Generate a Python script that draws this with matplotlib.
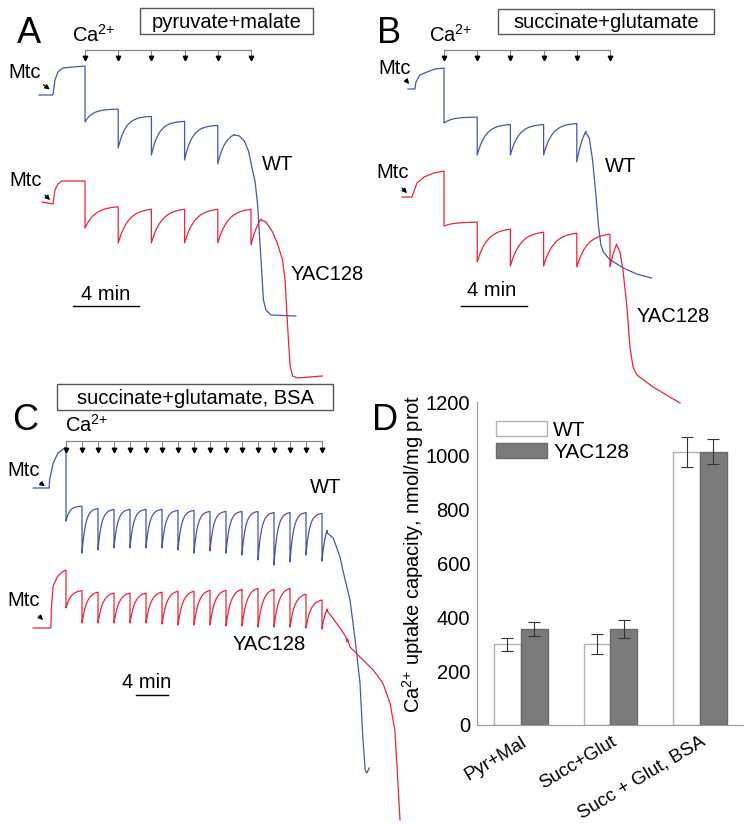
import numpy as np
import matplotlib.pyplot as plt
from matplotlib.patches import Rectangle, FancyArrowPatch
from matplotlib import transforms

plt.rcParams['font.family'] = ['Liberation Sans', 'DejaVu Sans']
plt.rcParams['mathtext.fontset'] = 'custom'
plt.rcParams['mathtext.rm'] = 'Liberation Sans'
plt.rcParams['mathtext.default'] = 'regular'

W, H = 754, 824
FS = 14.5
BLUE = '#4457b3'
RED = '#e8263c'
CA = r'Ca$^{2{+}}$'

# ---- panel A: pyruvate+malate  (time in min, signal in a.u.)
a_adds = [0, 2, 4, 6, 8, 10]
a_wt_mtc_t = [-2.77, -1.93, -1.81, -1.63, -1.33, -0.72, 0]
a_wt_mtc_y = [28.5, 28.5, 30.0, 30.8, 31.2, 31.3, 31.4]
a_wt_dips = [25.8, 23.2, 22.5, 22.0, 21.6]
a_wt_recs = [27.1, 26.4, 25.9, 25.5, 24.9]
a_wt_tail_t = [9.0, 9.3, 9.6, 9.85, 10.05, 10.25, 10.4, 10.6, 10.75, 10.9, 11.2, 12.7]
a_wt_tail_y = [24.5, 24.4, 23.9, 22.9, 21.3, 19.8, 17.5, 12.0, 8.0, 7.0, 6.5, 6.4]
a_yac_mtc_t = [-2.59, -1.93, -1.81, -1.63, -1.39, 0]
a_yac_mtc_y = [17.8, 17.6, 19.0, 19.6, 19.9, 19.9]
a_yac_dips = [15.2, 13.7, 13.7, 13.7, 13.7, 13.5]
a_yac_recs = [17.4, 17.2, 17.2, 17.2, 17.2, 17.6]
a_yac_tail_t = [10.6, 10.9, 11.3, 11.6, 11.9, 12.05, 12.2, 12.35, 12.5, 12.8, 14.3]
a_yac_tail_y = [16.0, 15.8, 14.8, 13.6, 12.0, 10.0, 5.5, 1.5, 0.4, 0.2, 0.4]

# ---- panel B: succinate+glutamate
b_adds = [0, 2, 4, 6, 8, 10]
b_wt_mtc_t = [-2.17, -1.75, -1.69, -1.45, -1.02, -0.54, 0]
b_wt_mtc_y = [29.1, 29.1, 29.8, 30.5, 30.8, 31.1, 31.2]
b_wt_dips = [25.7, 22.5, 22.5, 22.5, 21.8]
b_wt_recs = [26.3, 25.6, 25.6, 25.7, 26.4]
b_wt_tail_t = [8.55, 8.75, 8.95, 9.15, 9.3, 9.45, 9.6, 9.95, 10.8, 11.6, 12.5]
b_wt_tail_y = [24.7, 24.2, 22.0, 18.5, 15.5, 13.5, 12.8, 12.1, 11.2, 10.6, 10.2]
b_yac_mtc_t = [-2.53, -1.93, -1.63, -1.2, -0.6, 0]
b_yac_mtc_y = [18.3, 18.3, 19.7, 20.3, 20.7, 20.9]
b_yac_dips = [15.4, 11.8, 11.4, 11.4, 11.3, 11.3]
b_yac_recs = [15.8, 15.2, 14.9, 14.8, 14.7, 16.0]
b_yac_tail_t = [10.4, 10.6, 10.78, 11.02, 11.2, 11.39, 11.63, 12.59, 13.61, 14.22]
b_yac_tail_y = [13.5, 12.8, 11.0, 7.3, 3.3, 1.3, 0.5, -0.7, -1.7, -2.3]

# ---- panel C: succinate+glutamate, BSA
c_adds = [0, 2, 4, 6, 8, 10, 12, 14, 16, 18, 20, 22, 24, 26, 28, 30, 32]
c_wt_mtc_t = [-4.1, -2.1, -2.05, -1.6, -1.0, 0]
c_wt_mtc_y = [33.6, 33.6, 34.4, 36.1, 37.1, 37.7]
c_wt_dips = [30.3, 27.1, 27.4, 27.6, 27.6, 27.6, 27.6, 27.4, 27.1, 27.3, 27.1, 26.9,
             26.4, 25.9, 26.2, 26.9, 26.3]
c_wt_recs = [31.8, 31.6, 31.5, 31.5, 31.5, 31.5, 31.4, 31.4, 31.3, 31.3, 31.3, 31.3,
             31.2, 31.2, 31.2, 31.1, 30.3]
c_wt_tail_t = [32.65, 33.4, 34.25, 34.6, 35.5, 36.1, 36.75, 37.1, 37.4, 37.6, 37.9]
c_wt_tail_y = [29.1, 28.6, 26.7, 25.4, 22.4, 18.7, 14.1, 8.7, 5.4, 5.1, 5.6]
c_yac_mtc_t = [-4.1, -1.9, -1.8, -1.6, -1.1, -0.5, 0]
c_yac_mtc_y = [19.6, 19.6, 22.0, 23.8, 24.7, 25.2, 25.4]
c_yac_dips = [21.6, 20.1, 20.1, 20.1, 20.1, 20.1, 20.0, 19.9, 19.9, 19.9, 19.8, 19.8,
              19.7, 19.7, 19.7, 19.6, 19.5]
c_yac_recs = [23.4, 23.3, 23.2, 23.2, 23.2, 23.3, 23.4, 23.4, 23.5, 23.5, 23.6, 23.7,
              23.6, 23.7, 23.1, 22.5, 22.5]
c_yac_tail_t = [32.65, 33.25, 34.25, 35.0, 35.1, 35.2, 35.5, 36.75, 38.4, 39.6, 40.5,
                41.1, 41.4, 41.75]
c_yac_tail_y = [21.3, 20.7, 19.6, 18.7, 18.2, 18.5, 17.7, 16.7, 15.4, 14.1, 12.1,
                9.4, 5.4, 0.4]

# ---- panel D: Ca2+ uptake capacity
conditions = ['Pyr+Mal', 'Succ+Glut', 'Succ + Glut, BSA']
wt_mean = [300, 300, 1015]
wt_err = [25, 37, 55]
yac_mean = [357, 357, 1015]
yac_err = [27, 32, 47]


def build(mtc_t, mtc_y, adds, dips, recs, tau, tail_t, tail_y):
    # each Ca2+ pulse: instant drop to the dip, then uptake recovery toward recs[i]
    t, y = list(mtc_t), list(mtc_y)
    n = len(dips)
    for i in range(n):
        t_end = adds[i + 1] if i + 1 < n else tail_t[0]
        tt = np.linspace(adds[i], t_end, 40)
        t.extend(tt)
        y.extend(recs[i] - (recs[i] - dips[i]) * np.exp(-(tt - adds[i]) / tau))
    t.extend(tail_t)
    y.extend(tail_y)
    return t, y


fig = plt.figure(figsize=(W / 100, H / 100), dpi=100)


def put(x, y, s, size=FS, **kw):
    fig.text(x / W, 1 - y / H, s, fontsize=size, **kw)


def arrow(x0, y0, x1, y1):
    fig.add_artist(FancyArrowPatch((x0 / W, 1 - y0 / H), (x1 / W, 1 - y1 / H),
                                   transform=fig.transFigure, arrowstyle='-|>',
                                   mutation_scale=7, lw=0.8, color='black'))


def box(x0, y0, x1, y1, s):
    fig.add_artist(Rectangle((x0 / W, 1 - y1 / H), (x1 - x0) / W, (y1 - y0) / H,
                             transform=fig.transFigure, fill=False, ec='#555555', lw=1))
    put((x0 + x1) / 2, (y0 + y1) / 2 + 1, s, ha='center', va='center')


# ---------------- panel D bars
axd = fig.add_axes([477 / W, 1 - 725 / H, 266 / W, 323 / H])
x = np.arange(len(conditions))
ekw = dict(elinewidth=0.8, ecolor='#333333', capthick=0.8)
axd.bar(x - 0.15, wt_mean, 0.3, yerr=wt_err, color='white', edgecolor='#b3b3b3',
        lw=1, capsize=4, error_kw=ekw, label='WT')
axd.bar(x + 0.15, yac_mean, 0.3, yerr=yac_err, color='#7a7a7a', edgecolor='#6a6a6a',
        lw=1, capsize=4, error_kw=ekw, label='YAC128')
axd.set_xlim(-0.49, 2.48)
axd.set_ylim(0, 1200)
axd.set_yticks(np.arange(0, 1201, 200))
axd.set_xticks(x)
axd.set_xticklabels(conditions, rotation=31, ha='right', rotation_mode='anchor', fontsize=13.5)
offset = transforms.ScaledTranslation(0.12, 0, fig.dpi_scale_trans)
for lab in axd.get_xticklabels():
    lab.set_transform(lab.get_transform() + offset)
axd.tick_params(axis='y', length=0, labelsize=FS, pad=5)
axd.tick_params(axis='x', length=0, pad=6)
for s in ['top', 'right']:
    axd.spines[s].set_visible(False)
for s in ['left', 'bottom']:
    axd.spines[s].set_color('#9a9a9a')
axd.set_ylabel(CA + ' uptake capacity, nmol/mg prot', fontsize=FS)
axd.yaxis.set_label_coords(-0.193, 0.53)
axd.legend(loc='upper left', bbox_to_anchor=(0.071, 0.941), frameon=False, fontsize=15,
           handlelength=2.45, handleheight=0.72, handletextpad=0.3, labelspacing=0.15,
           borderpad=0, borderaxespad=0)


# ---------------- trace panels (full-figure axes, x = min, y = a.u.)
def trace_axes(t0_px, px_per_min, y0_px):
    ax = fig.add_axes([0, 0, 1, 1])
    ax.set_xlim(-t0_px / px_per_min, (W - t0_px) / px_per_min)
    ax.set_ylim((y0_px - H) / 10, y0_px / 10)
    ax.axis('off')
    ax.patch.set_visible(False)
    return ax


def ca_marks(ax, adds, y_line, y_tip):
    ax.plot([adds[0], adds[-1]], [y_line, y_line], color='#888888', lw=0.9)
    ax.vlines(adds, y_tip, y_line, color='#888888', lw=0.8)
    ax.plot(adds, [y_tip] * len(adds), 'v', color='black', ms=3.2)


def scale_bar(ax, t_s, y_s):
    ax.plot([t_s, t_s + 4], [y_s, y_s], color='black', lw=1)


# A
axa = trace_axes(85, 16.6, 380)
axa.plot(*build(a_wt_mtc_t, a_wt_mtc_y, a_adds, a_wt_dips, a_wt_recs, 0.45,
                a_wt_tail_t, a_wt_tail_y), color=BLUE, lw=0.9)
axa.plot(*build(a_yac_mtc_t, a_yac_mtc_y, a_adds, a_yac_dips, a_yac_recs, 0.6,
                a_yac_tail_t, a_yac_tail_y), color=RED, lw=0.9)
ca_marks(axa, a_adds, 33.0, 32.2)
scale_bar(axa, -0.72, 7.4)

# B
axb = trace_axes(444, 16.6, 380)
axb.plot(*build(b_wt_mtc_t, b_wt_mtc_y, b_adds, b_wt_dips, b_wt_recs, 0.5,
                b_wt_tail_t, b_wt_tail_y), color=BLUE, lw=0.9)
axb.plot(*build(b_yac_mtc_t, b_yac_mtc_y, b_adds, b_yac_dips, b_yac_recs, 0.6,
                b_yac_tail_t, b_yac_tail_y), color=RED, lw=0.9)
ca_marks(axb, b_adds, 33.0, 32.2)
scale_bar(axb, 1.02, 7.4)

# C
axc = trace_axes(66, 8, 824)
axc.plot(*build(c_wt_mtc_t, c_wt_mtc_y, c_adds, c_wt_dips, c_wt_recs, 0.45,
                c_wt_tail_t, c_wt_tail_y), color=BLUE, lw=0.9)
axc.plot(*build(c_yac_mtc_t, c_yac_mtc_y, c_adds, c_yac_dips, c_yac_recs, 0.6,
                c_yac_tail_t, c_yac_tail_y), color=RED, lw=0.9)
ca_marks(axc, c_adds, 38.3, 37.4)
scale_bar(axc, 8.75, 12.9)

# ---------------- labels and annotations
for letter, lx, ly in [('A', 17, 43), ('B', 377, 43), ('C', 12, 430), ('D', 372, 430)]:
    put(lx, ly, letter, size=26, ha='left', va='baseline')
for cx, cy in [(72, 42), (429, 42), (65, 432)]:
    put(cx, cy, CA, ha='left', va='baseline')

box(140, 8, 313, 34, 'pyruvate+malate')
box(498, 9, 714, 34, 'succinate+glutamate')
box(57, 384, 333, 410, 'succinate+glutamate, BSA')

for mx, my in [(25, 72), (26, 180), (395, 69), (393, 173), (24, 470), (24, 600)]:
    put(mx, my, 'Mtc', ha='center', va='center')
for x0, y0, x1, y1 in [(41, 83, 52, 91), (43, 193, 52, 202), (404, 78, 411, 86),
                       (400, 186, 409, 195), (38, 481, 47, 488), (37, 614, 45, 622)]:
    arrow(x0, y0, x1, y1)

put(278, 164, 'WT', ha='center', va='center')
put(327, 275, 'YAC128', ha='center', va='center')
put(621, 166, 'WT', ha='center', va='center')
put(673, 316, 'YAC128', ha='center', va='center')
put(326, 488, 'WT', ha='center', va='center')
put(269, 644, 'YAC128', ha='center', va='center')

put(106, 294, '4 min', ha='center', va='center')
put(492, 291, '4 min', ha='center', va='center')
put(147, 682, '4 min', ha='center', va='center')

fig.savefig('out.png', dpi=100)
